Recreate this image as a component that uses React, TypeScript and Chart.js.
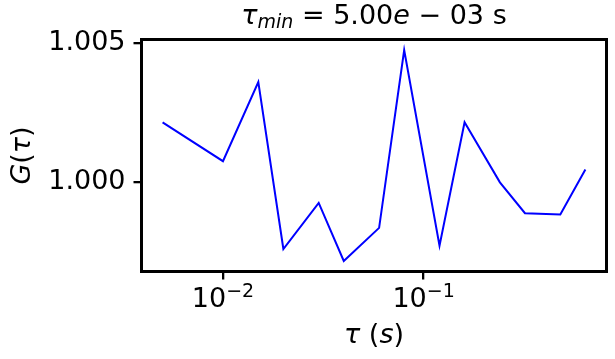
import { useEffect, useRef } from 'react';
import { Chart, registerables } from 'chart.js';

Chart.register(...registerables);

// ---- data ----
const tauValues = [0.005, 0.01, 0.015, 0.02, 0.03, 0.04, 0.06, 0.08, 0.12, 0.16, 0.24, 0.32, 0.48, 0.64];
const gValues = [1.00216, 1.00076, 1.00361, 0.9976, 0.99926, 0.99717, 0.99836, 1.00476, 0.99772, 1.00216, 1.0, 0.99889, 0.99884, 1.00046];
const xTickValues = [0.01, 0.1];
const xTickExponents = ['\u22122', '\u22121'];
const yTickValues = [1.0, 1.005];
const xRange = [0.003926, 0.8155];
const yRange = [0.99679, 1.00514];

const FAM = '"DejaVu Sans", sans-serif';
const R26 = `27px ${FAM}`;
const I26 = `italic 27px ${FAM}`;
const R18 = `19px ${FAM}`;
const I18 = `italic 19px ${FAM}`;

type Piece = { text: string; font: string; dy?: number };

function drawPieces(ctx: CanvasRenderingContext2D, pieces: Piece[], cx: number, baseline: number) {
  const widths: number[] = [];
  let total = 0;
  for (const p of pieces) {
    ctx.font = p.font;
    const w = ctx.measureText(p.text).width;
    widths.push(w);
    total += w;
  }
  let x = cx - total / 2;
  ctx.textAlign = 'left';
  ctx.textBaseline = 'alphabetic';
  pieces.forEach((p, i) => {
    ctx.font = p.font;
    ctx.fillText(p.text, x, baseline + (p.dy || 0));
    x += widths[i];
  });
}

const decorPlugin = {
  id: 'decor',
  afterDraw(chart: any) {
    const ctx: CanvasRenderingContext2D = chart.ctx;
    const { left, right, top, bottom } = chart.chartArea;
    ctx.save();
    ctx.strokeStyle = '#000';
    ctx.lineWidth = 3;
    ctx.strokeRect(left, top, right - left, bottom - top);
    ctx.fillStyle = '#000';
    const cx = (left + right) / 2;
    // title
    drawPieces(
      ctx,
      [
        { text: '\u03c4', font: I26 },
        { text: 'min', font: I18, dy: 4 },
        { text: ' = 5.00', font: R26 },
        { text: 'e', font: I26 },
        { text: ' \u2212 03 s', font: R26 },
      ],
      cx,
      24
    );
    // x tick labels
    const xs = chart.scales.x;
    xTickValues.forEach((v, i) => {
      drawPieces(
        ctx,
        [
          { text: '10', font: R26 },
          { text: xTickExponents[i], font: R18, dy: -10 },
        ],
        xs.getPixelForValue(v),
        307
      );
    });
    // x title
    drawPieces(
      ctx,
      [
        { text: '\u03c4', font: I26 },
        { text: ' (', font: R26 },
        { text: 's', font: I26 },
        { text: ')', font: R26 },
      ],
      cx,
      343
    );
    // y title
    ctx.translate(30, (top + bottom) / 2);
    ctx.rotate(-Math.PI / 2);
    drawPieces(
      ctx,
      [
        { text: 'G', font: I26 },
        { text: '(', font: R26 },
        { text: '\u03c4', font: I26 },
        { text: ')', font: R26 },
      ],
      0,
      0
    );
    ctx.restore();
  },
};

export default function App() {
  const ref = useRef<HTMLCanvasElement>(null);
  useEffect(() => {
    document.body.style.margin = '0';
    const canvas = ref.current!;
    const chart = new Chart(canvas, {
      type: 'line',
      data: {
        datasets: [
          {
            data: tauValues.map((t, i) => ({ x: t, y: gValues[i] })),
            borderColor: '#0000ff',
            borderWidth: 2,
            pointRadius: 0,
            tension: 0,
            fill: false,
          },
        ],
      },
      options: {
        animation: false,
        responsive: false,
        devicePixelRatio: 1,
        layout: { padding: { left: 0, top: 39.5, right: 8.5, bottom: 0 } },
        plugins: { legend: { display: false }, title: { display: false }, tooltip: { enabled: false } },
        scales: {
          x: {
            type: 'logarithmic',
            min: xRange[0],
            max: xRange[1],
            afterBuildTicks: (s: any) => {
              s.ticks = xTickValues.map((v) => ({ value: v }));
            },
            afterFit: (s: any) => {
              s.height = 87.5;
            },
            ticks: { autoSkip: false, maxRotation: 0, callback: () => '' },
            grid: { drawOnChartArea: false, drawTicks: true, tickLength: 8, color: '#000', lineWidth: 2.3 },
            border: { display: false },
          },
          y: {
            type: 'linear',
            min: yRange[0],
            max: yRange[1],
            afterBuildTicks: (s: any) => {
              s.ticks = yTickValues.map((v) => ({ value: v }));
            },
            afterFit: (s: any) => {
              s.width = 141.5;
            },
            ticks: {
              autoSkip: false,
              padding: 8,
              color: '#000',
              font: { family: FAM, size: 27 },
              callback: (v: any) => Number(v).toFixed(3),
            },
            grid: { drawOnChartArea: false, drawTicks: true, tickLength: 8, color: '#000', lineWidth: 2.3 },
            border: { display: false },
          },
        },
      },
      plugins: [decorPlugin],
    } as any);
    return () => chart.destroy();
  }, []);
  return (
    <div style={{ width: 615, height: 359 }}>
      <canvas ref={ref} width={615} height={359} style={{ display: 'block' }} />
    </div>
  );
}
